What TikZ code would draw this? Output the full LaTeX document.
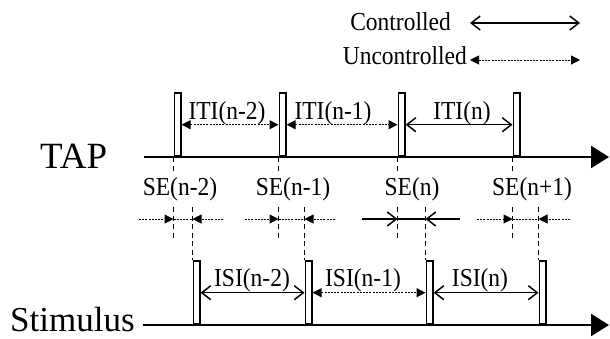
\documentclass[tikz,border=0pt]{standalone}
\usepackage{fontspec}
\setmainfont{Liberation Serif}
\usetikzlibrary{arrows.meta}

% small labels are set slightly taller than wide
\newcommand{\talltext}[1]{\scalebox{1}[1.1]{#1}}

\tikzset{
  x=1pt, y=-1pt,
  axis/.style={line width=2.4pt, -{Triangle[length=18pt,width=22pt]}},
  pulse/.style={draw, line width=1.6pt, inner sep=0pt, minimum width=6.5pt,
                minimum height=63pt, anchor=south west},
  vdash/.style={line width=1.6pt, dash pattern=on 5pt off 3.5pt},
  fine/.style={line width=1pt, dash pattern=on 2pt off 1.2pt},
  unctl/.style={fine, {Triangle[length=9pt,width=9pt]}-{Triangle[length=9pt,width=9pt]}},
  unctlin/.style={fine, -{Triangle[length=9pt,width=9pt]}},
  ctl/.style={line width=1.5pt, {Straight Barb[length=9pt,width=14pt]}-{Straight Barb[length=9pt,width=14pt]}},
  ctlin/.style={line width=1.5pt, -{Straight Barb[length=9pt,width=14pt]}},
  lbl/.style={inner sep=0pt, font=\fontsize{23.5}{26}\selectfont},
  big/.style={inner sep=0pt, anchor=base west},
}

\begin{document}
\begin{tikzpicture}
\useasboundingbox (0,0) rectangle (610,338);

% ---- legend ----
\node[lbl, anchor=base east] (ctext) at (451,30) {\talltext{Controlled}};
\node[lbl, anchor=base east] (utext) at (467,64) {\talltext{Uncontrolled}};
\coordinate (c1) at (470,23);
\coordinate (c2) at (580,23);
\coordinate (u1) at (470,60);
\coordinate (u2) at (580,60);
\draw[ctl] (c1) -- (c2);
\draw[unctl] (u1) -- (u2);

% ---- axes ----
\node[big, font=\fontsize{37}{40}\selectfont] (tap) at (40,168) {TAP};
\node[big, font=\fontsize{35}{38}\selectfont] (stim) at (10,331) {Stimulus};
\coordinate (tap0) at (144,157);
\coordinate (tap1) at (609,157);
\coordinate (stim0) at (143,325);
\coordinate (stim1) at (609,325);
\draw[axis] (tap0) -- (tap1);
\draw[axis] (stim0) -- (stim1);

% ---- tap pulses ----
\node[pulse] (t1) at (173.5,157) {};
\node[pulse] (t2) at (278.5,157) {};
\node[pulse] (t3) at (397.5,157) {};
\node[pulse] (t4) at (512.5,157) {};

% ---- stimulus pulses ----
\node[pulse] (s1) at (192.5,325) {};
\node[pulse] (s2) at (304.5,325) {};
\node[pulse] (s3) at (425.5,325) {};
\node[pulse] (s4) at (538.5,325) {};

% ---- inter-tap intervals ----
\draw[unctl] (t1.east) -- (t2.west);
\draw[unctl] (t2.east) -- (t3.west);
\draw[ctl] (t3.east) -- (t4.west);
\node[lbl, anchor=base] (iti1) at (227,119) {\talltext{ITI(n-2)}};
\node[lbl, anchor=base] (iti2) at (333,119) {\talltext{ITI(n-1)}};
\node[lbl, anchor=base] (iti3) at (462,119) {\talltext{ITI(n)}};

% ---- inter-stimulus intervals ----
\draw[ctl] (s1.east) -- (s2.west);
\draw[unctl] (s2.east) -- (s3.west);
\draw[ctl] (s3.east) -- (s4.west);
\node[lbl, anchor=base] (isi1) at (252,286) {\talltext{ISI(n-2)}};
\node[lbl, anchor=base] (isi2) at (363,286) {\talltext{ISI(n-1)}};
\node[lbl, anchor=base] (isi3) at (480,286) {\talltext{ISI(n)}};

% ---- synchronisation errors ----
\coordinate (ytick) at (0,172);
\coordinate (ytop) at (0,207);
\coordinate (yarr) at (0,219);
\coordinate (yend) at (0,240);

\foreach \i in {1,2,3,4}{
  \draw[vdash] (t\i.south west) -- (t\i.south west |- ytick);
  \draw[vdash] (t\i.south west |- ytop) -- (t\i.south west |- yend);
  \draw[vdash] (s\i.north west |- ytop) -- (s\i.north west);
}

\node[lbl, anchor=base] (se1) at (180,195) {\talltext{SE(n-2)}};
\node[lbl, anchor=base] (se2) at (293,195) {\talltext{SE(n-1)}};
\node[lbl, anchor=base] (se3) at (412,195) {\talltext{SE(n)}};
\node[lbl, anchor=base] (se4) at (532,195) {\talltext{SE(n+1)}};

\coordinate (l1) at (139,219); \coordinate (r1) at (223,219);
\coordinate (l2) at (245,219); \coordinate (r2) at (335,219);
\coordinate (l3) at (362,219); \coordinate (r3) at (460,219);
\coordinate (l4) at (477,219); \coordinate (r4) at (570,219);

\foreach \i in {1,2,4}{
  \draw[unctlin] (l\i) -- (t\i.south west |- yarr);
  \draw[fine] (t\i.south west |- yarr) -- (s\i.north west |- yarr);
  \draw[unctlin] (r\i) -- (s\i.north west |- yarr);
}
\draw[ctlin] (l3) -- (t3.south west |- yarr);
\draw[line width=1.5pt] (t3.south west |- yarr) -- (s3.north west |- yarr);
\draw[ctlin] (r3) -- (s3.north west |- yarr);
\end{tikzpicture}
\end{document}
